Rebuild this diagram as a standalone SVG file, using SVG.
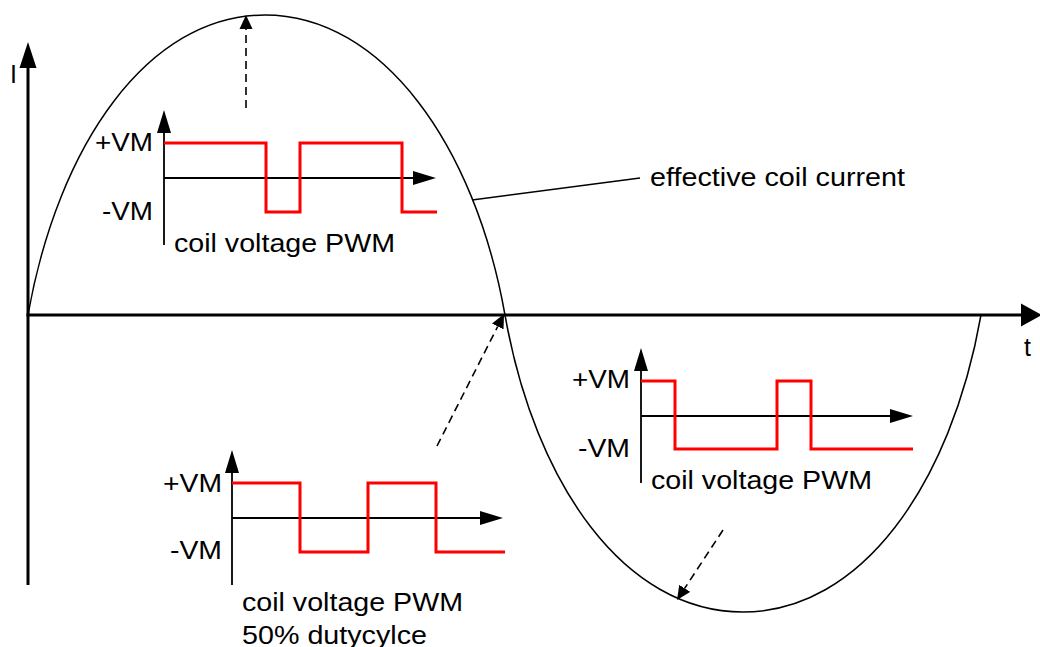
<svg xmlns="http://www.w3.org/2000/svg" width="1040" height="647" viewBox="0 0 1040 647">
<style>
  text { font-family: "Liberation Sans", Arial, sans-serif; font-size: 25px; fill: #000; }
  .curve { fill: none; stroke: #000; stroke-width: 1.5; }
  .axis { fill: none; stroke: #000; stroke-width: 3; }
  .sax { fill: none; stroke: #000; stroke-width: 1.8; }
  .pwm { fill: none; stroke: #ff0000; stroke-width: 3; stroke-linejoin: miter; }
  .dash { fill: none; stroke: #000; stroke-width: 1.6; stroke-dasharray: 8 5; }
  .thin { fill: none; stroke: #000; stroke-width: 1.5; }
</style>
<defs>
  <marker id="ax" viewBox="0 -8 24 16" refX="0" refY="0" markerWidth="24" markerHeight="16" markerUnits="userSpaceOnUse" orient="auto">
    <path d="M0,-7 L23,0 L0,7 z" fill="#000"/>
  </marker>
  <marker id="da" viewBox="0 -7 14 14" refX="0" refY="0" markerWidth="14" markerHeight="14" markerUnits="userSpaceOnUse" orient="auto">
    <path d="M0,-6.5 L14,0 L0,6.5 z" fill="#000"/>
  </marker>
</defs>

<g id="main-axes">
  <line class="axis" x1="28" y1="585" x2="28" y2="67"/>
  <polygon points="28,42 19.5,68 36.5,68" fill="#000"/>
  <line class="axis" x1="26.5" y1="315" x2="1022" y2="315"/>
  <polygon points="1042,315 1021,303.5 1021,326.5" fill="#000"/>
  <text x="10" y="83">I</text>
  <text x="1024" y="356">t</text>
</g>

<g id="current-curve">
  <path class="curve" d="M28,315 C58,145 148,15 265,15 C382,15 475,145 505,315 C535,485 625,612 743,612 C861,612 951,485 981,315"/>
  <text x="650" y="186" textLength="255" lengthAdjust="spacingAndGlyphs">effective coil current</text>
</g>

<g id="pwm-top">
  <line class="sax" x1="164" y1="245" x2="164" y2="133" marker-end="url(#ax)"/>
  <line class="sax" x1="164" y1="178" x2="413" y2="178" marker-end="url(#ax)"/>
  <polyline class="pwm" points="164,143 266,143 266,212 300,212 300,143 402,143 402,212 437,212"/>
  <text x="95" y="151" textLength="58" lengthAdjust="spacingAndGlyphs">+VM</text>
  <text x="102" y="220" textLength="51" lengthAdjust="spacingAndGlyphs">-VM</text>
  <text x="174" y="252" textLength="221" lengthAdjust="spacingAndGlyphs">coil voltage PWM</text>
</g>

<g id="pwm-bottom-left">
  <line class="sax" x1="232" y1="585" x2="232" y2="473" marker-end="url(#ax)"/>
  <line class="sax" x1="232" y1="518" x2="480" y2="518" marker-end="url(#ax)"/>
  <polyline class="pwm" points="232,483 300,483 300,552 368,552 368,483 436,483 436,552 505,552"/>
  <text x="163" y="492" textLength="59" lengthAdjust="spacingAndGlyphs">+VM</text>
  <text x="170" y="559" textLength="52" lengthAdjust="spacingAndGlyphs">-VM</text>
  <text x="242" y="611" textLength="221" lengthAdjust="spacingAndGlyphs">coil voltage PWM</text>
  <text x="242" y="644" textLength="185" lengthAdjust="spacingAndGlyphs">50% dutycylce</text>
</g>

<g id="pwm-bottom-right">
  <line class="sax" x1="641" y1="483" x2="641" y2="371" marker-end="url(#ax)"/>
  <line class="sax" x1="641" y1="416" x2="890" y2="416" marker-end="url(#ax)"/>
  <polyline class="pwm" points="641,381 675,381 675,449 777,449 777,381 811,381 811,449 913,449"/>
  <text x="572" y="388" textLength="58" lengthAdjust="spacingAndGlyphs">+VM</text>
  <text x="578" y="457" textLength="52" lengthAdjust="spacingAndGlyphs">-VM</text>
  <text x="651" y="489" textLength="221" lengthAdjust="spacingAndGlyphs">coil voltage PWM</text>
</g>

<g id="connectors">
  <line class="dash" x1="246" y1="108" x2="246" y2="29" marker-end="url(#da)"/>
  <line class="dash" x1="437" y1="446" x2="497.7" y2="326.5" marker-end="url(#da)"/>
  <line class="dash" x1="723" y1="530" x2="684.7" y2="588.3" marker-end="url(#da)"/>
  <line class="thin" x1="472" y1="200" x2="640" y2="178"/>
</g>
</svg>
